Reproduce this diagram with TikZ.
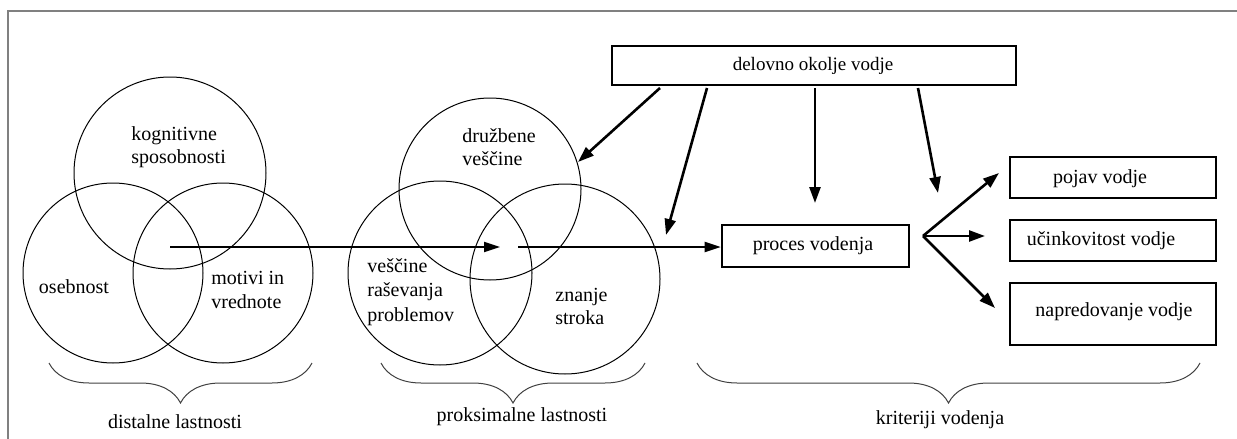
\documentclass[tikz,border=0pt]{standalone}
\usepackage{fontspec}
\setmainfont{Liberation Serif}
\usetikzlibrary{arrows.meta,decorations.pathreplacing}
\begin{document}
\begin{tikzpicture}[x=0.5pt,y=-0.5pt,
 circ/.style={draw, circle, line width=0.5pt, inner sep=0pt},
 lbl/.style={font=\fontsize{10}{12}\selectfont, align=left, inner sep=0pt},
 boxnode/.style={draw, line width=1.3pt, inner sep=0pt},
 bigarrow/.style={line width=1.3pt, -{Triangle[length=8pt,width=5.5pt]}},
 harrow/.style={line width=1pt, -{Triangle[length=8pt,width=5pt]}},
 brc/.style={decorate, decoration={brace, mirror, amplitude=20pt}, line width=0.5pt, draw=black!75}
]
\useasboundingbox (0,0) rectangle (1237,439);
% frame
\draw[gray, line width=0.7pt] (8,439) -- (8,11) -- (1237,11);

% distal circles
\node[circ, minimum size=96pt] (kog) at (170,173) {};
\node[circ, minimum size=90pt] (ose) at (113,273) {};
\node[circ, minimum size=90pt] (mot) at (223,273) {};
\node[lbl, anchor=west, font=\fontsize{10}{11.5}\selectfont] (kogT) at (131,147) {kognitivne\\sposobnosti};
\node[lbl] (oseT) at (74,287) {osebnost};
\node[lbl, anchor=west, font=\fontsize{10}{12}\selectfont] (motT) at (211,290) {motivi in\\vrednote};

% proximal circles
\node[circ, minimum size=91pt] (dru) at (490,189) {};
\node[circ, minimum size=92pt] (ves) at (440,273) {};
\node[circ, minimum size=95pt] (zna) at (565,279) {};
\node[lbl, anchor=west, font=\fontsize{10}{11.5}\selectfont] (druT) at (462,147) {družbene\\veščine};
\node[lbl, anchor=west, font=\fontsize{10}{12.2}\selectfont] (vesT) at (367,292) {veščine\\raševanja\\problemov};
\node[lbl, anchor=west, font=\fontsize{10}{11.5}\selectfont] (znaT) at (555,306) {znanje\\stroka};

% boxes
\node[boxnode, minimum width=202pt, minimum height=19.5pt] (env) at (814,65.5) {};
\node[lbl, font=\fontsize{9.5}{11}\selectfont] (envT) at (813,66) {delovno okolje vodje};
\node[boxnode, minimum width=93.5pt, minimum height=21pt] (proc) at (815.5,246) {};
\node[lbl] (procT) at (813,246) {proces vodenja};
\node[boxnode, minimum width=103pt, minimum height=20.5pt] (poj) at (1113,177.5) {};
\node[lbl] (pojT) at (1100,179) {pojav vodje};
\node[boxnode, minimum width=103pt, minimum height=20.5pt] (uci) at (1113,240.5) {};
\node[lbl] (uciT) at (1101,241) {učinkovitost vodje};
\node[boxnode, minimum width=103pt, minimum height=31pt] (nap) at (1113,314) {};
\node[lbl] (napT) at (1114,312) {napredovanje vodje};

% horizontal arrows
\coordinate (h1s) at (170,247);
\coordinate (h1e) at (500,247);
\coordinate (h2s) at (518,247);
\draw[harrow] (h1s) -- (h1e);
\draw[harrow] (h2s) -- (proc.west |- h2s);

% arrows from environment box
\coordinate (s1) at (660,88);
\coordinate (e1) at (578,162);
\coordinate (s2) at (707,88);
\coordinate (e2) at (666,235);
\coordinate (s3) at (815,88);
\coordinate (e3) at (815,203);
\coordinate (s4) at (918,88);
\coordinate (e4) at (938,193);
\draw[bigarrow] (s1) -- (e1);
\draw[bigarrow] (s2) -- (e2);
\draw[bigarrow] (s3) -- (e3);
\draw[bigarrow] (s4) -- (e4);

% fork arrows
\coordinate (fork) at (923,236);
\coordinate (f1) at (999,173);
\coordinate (f2) at (985,236);
\coordinate (f3) at (995,308);
\draw[bigarrow] (fork) -- (f1);
\draw[bigarrow] (fork) -- (f2);
\draw[bigarrow] (fork) -- (f3);

% braces
\coordinate (b1a) at (49,363);
\coordinate (b1b) at (312,363);
\coordinate (b2a) at (381,363);
\coordinate (b2b) at (645,363);
\coordinate (b3a) at (697,363);
\coordinate (b3b) at (1200,363);
\draw[brc] (b1a) -- (b1b);
\draw[brc] (b2a) -- (b2b);
\draw[brc] (b3a) -- (b3b);
\node[lbl] (distT) at (175,422) {distalne lastnosti};
\node[lbl] (proxT) at (522,417) {proksimalne lastnosti};
\node[lbl] (kritT) at (940,420) {kriteriji vodenja};
\end{tikzpicture}
\end{document}
